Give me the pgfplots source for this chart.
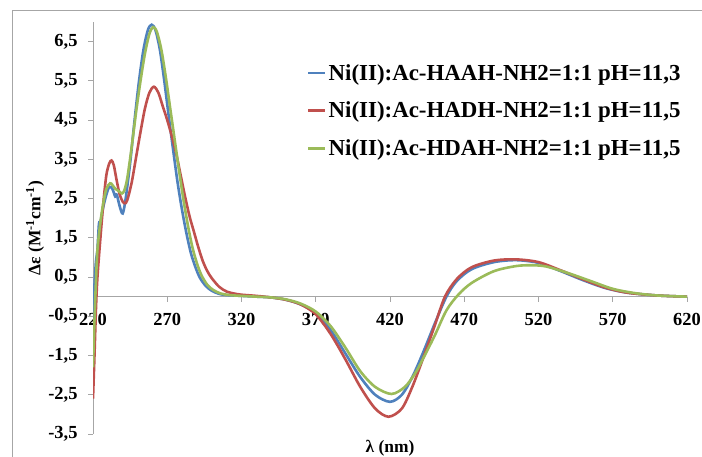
\documentclass[border=0pt]{standalone}
\usepackage{pgfplots}
\pgfplotsset{compat=1.18}
\usepackage{fontspec}
\setmainfont{Liberation Serif}
\definecolor{cblue}{HTML}{4F81BD}
\definecolor{cred}{HTML}{C0504D}
\definecolor{cgreen}{HTML}{9BBB59}
\definecolor{axgray}{HTML}{A6A6A6}
\begin{document}
\begin{tikzpicture}[x=1bp,y=1bp]
\useasboundingbox (0,0) rectangle (702,457);
\draw[axgray,line width=1bp] (12,-5) -- (12,446) -- (710,446);
\begin{axis}[
  at={(93bp,23bp)}, anchor=south west,
  scale only axis, width=594bp, height=412bp,
  xmin=220, xmax=620, ymin=-3.5, ymax=7,
  axis x line*=middle, axis y line*=left,
  hide obscured x ticks=false, hide obscured y ticks=false,
  axis line style={axgray, line width=0.8bp},
  tick style={axgray, line width=0.8bp},
  tick align=outside, major tick length=5bp,
  xtick={220,270,...,620},
  xticklabels={220,270,320,370,420,470,520,570,620},
  ytick={-3.5,-2.5,...,6.5},
  yticklabels={{-3,5},{-2,5},{-1,5},{-0,5},{0,5},{1,5},{2,5},{3,5},{4,5},{5,5},{6,5}},
  ticklabel style={font=\fontsize{18.5}{18.5}\selectfont\bfseries, text=black},
  xticklabel style={yshift=-8bp},
  yticklabel style={xshift=-7bp},
  xlabel={λ (nm)},
  ylabel={Δε (M\textsuperscript{-1}cm\textsuperscript{-1})},
  label style={font=\fontsize{17.5}{17.5}\selectfont\bfseries},
  xlabel style={at={(axis description cs:0.5,-0.034)}, anchor=center},
  ylabel style={at={(axis description cs:-0.0976,0.5)}, anchor=center, rotate=0},
  legend style={at={(rel axis cs:0.36,0.903)}, anchor=north west, draw=none, fill=none,
    font=\fontsize{23}{23}\selectfont\bfseries, row sep=16.5bp, inner sep=0pt},
  legend cell align=left,
  every axis plot/.append style={line width=2.6bp, smooth, tension=0.5},
]
\addplot[cblue] coordinates {
(220,-0.6)(221,0.3)(222,0.9)(223,1.2)(224,1.85)(225,1.9)(227,2.3)(229,2.6)(231,2.8)(233,2.75)(235,2.55)(236,2.6)(238,2.3)(240,2.12)(242,2.5)(245,3.4)(248,4.5)(251,5.5)(254,6.3)(257,6.8)(259.5,6.93)(262,6.8)(265,6.3)(268,5.5)(271,4.6)(274,3.73)(277,2.9)(280,2.2)(283,1.6)(286,1.1)(289,0.75)(292,0.48)(296,0.27)(300,0.15)(305,0.07)(310,0.04)(320,0.02)(330,0.0)(340,-0.02)(350,-0.08)(360,-0.2)(370,-0.42)(380,-0.85)(390,-1.45)(400,-2.05)(410,-2.5)(420,-2.68)(428,-2.5)(435,-2.05)(442,-1.45)(450,-0.7)(458,0.0)(465,0.4)(475,0.7)(490,0.88)(505,0.93)(520,0.86)(535,0.65)(550,0.42)(565,0.22)(580,0.1)(600,0.03)(620,0.0)
};
\addlegendentry{Ni(II):Ac-HAAH-NH2=1:1 pH=11,3}
\addplot[cred] coordinates {
(220,-2.6)(221,-1.5)(222,-0.3)(223,0.5)(225,1.5)(227,2.4)(229,3.1)(231,3.4)(232.5,3.47)(234,3.35)(236,2.95)(238,2.6)(240,2.42)(241.5,2.38)(243,2.45)(246,2.9)(249,3.55)(252,4.2)(255,4.8)(258,5.2)(261,5.35)(264,5.2)(267,4.85)(270,4.5)(273,4.1)(276,3.65)(279,3.1)(282,2.55)(285,2.05)(288,1.65)(291,1.25)(294,0.9)(297,0.65)(300,0.47)(305,0.25)(310,0.13)(315,0.08)(320,0.05)(330,0.02)(340,-0.02)(350,-0.08)(360,-0.2)(370,-0.45)(380,-0.95)(390,-1.6)(400,-2.3)(410,-2.85)(419,-3.06)(428,-2.85)(435,-2.3)(442,-1.6)(450,-0.75)(457,0.0)(465,0.45)(475,0.75)(490,0.92)(505,0.95)(520,0.88)(535,0.67)(550,0.44)(565,0.23)(580,0.1)(600,0.03)(620,0.0)
};
\addlegendentry{Ni(II):Ac-HADH-NH2=1:1 pH=11,5}
\addplot[cgreen] coordinates {
(220,-1.8)(221,-0.6)(222,0.4)(223,1.2)(225,1.9)(227,2.4)(229,2.75)(231.5,2.89)(233,2.85)(235,2.75)(237,2.7)(239.5,2.63)(241,2.7)(243,3.0)(246,3.8)(249,4.7)(252,5.5)(255,6.2)(258,6.7)(260.5,6.87)(263,6.75)(266,6.3)(269,5.6)(272,4.8)(275,4.0)(278,3.2)(281,2.45)(284,1.8)(287,1.25)(290,0.85)(293,0.55)(297,0.3)(301,0.17)(306,0.08)(312,0.04)(320,0.02)(330,0.0)(340,-0.02)(350,-0.07)(360,-0.18)(370,-0.38)(380,-0.75)(390,-1.3)(400,-1.9)(410,-2.3)(421,-2.48)(430,-2.3)(437,-1.95)(442,-1.6)(450,-1.0)(458,-0.35)(466,0.05)(475,0.35)(490,0.65)(505,0.78)(515,0.8)(525,0.77)(540,0.6)(555,0.4)(570,0.2)(585,0.09)(600,0.03)(620,0.0)
};
\addlegendentry{Ni(II):Ac-HDAH-NH2=1:1 pH=11,5}
\end{axis}
\end{tikzpicture}
\end{document}
